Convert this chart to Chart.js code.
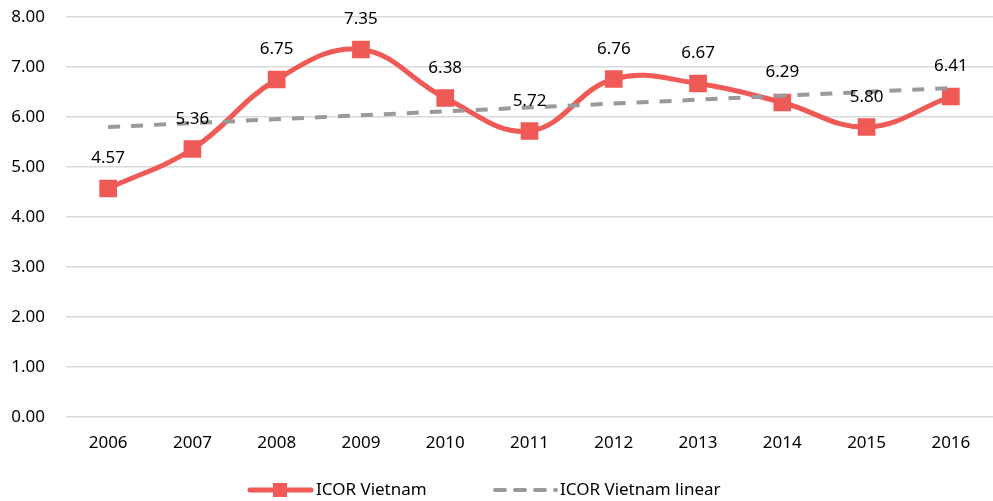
<!DOCTYPE html>
<html>
<head>
<meta charset="utf-8">
<script src="https://cdn.jsdelivr.net/npm/chart.js@4.4.1/dist/chart.umd.min.js"></script>
<style>
  html, body { margin: 0; padding: 0; background: #fff; overflow: hidden; }
  #chart { display: block; }
</style>
</head>
<body>
<canvas id="chart" width="993" height="501"></canvas>
<script>
const years = ['2006', '2007', '2008', '2009', '2010', '2011', '2012', '2013', '2014', '2015', '2016']
const icorValues = [4.57, 5.36, 6.75, 7.35, 6.38, 5.72, 6.76, 6.67, 6.29, 5.80, 6.41]
// trend line: only its two ends, joined straight
const trendValues = [5.80, null, null, null, null, null, null, null, null, null, 6.58]
const seriesNames = ['ICOR Vietnam', 'ICOR Vietnam linear']

const RED = 'rgb(240, 90, 86)'
const GREY = 'rgb(154, 154, 154)'
const FONT = '"Noto Sans", sans-serif'

Chart.defaults.font.family = FONT
Chart.defaults.font.size = 16
Chart.defaults.color = '#000'

// value labels above the red points
const valueLabels = {
  id: 'valueLabels',
  afterDatasetsDraw(chart) {
    const ctx = chart.ctx
    const meta = chart.getDatasetMeta(0)
    ctx.save()
    ctx.font = '17px ' + FONT
    ctx.fillStyle = '#000'
    ctx.textAlign = 'center'
    ctx.textBaseline = 'middle'
    meta.data.forEach((pt, i) => {
      ctx.fillText(icorValues[i].toFixed(2), pt.x, pt.y - 30)
    })
    ctx.restore()
  },
}

// legend at the bottom, drawn by hand to get line + marker samples
const bottomLegend = {
  id: 'bottomLegend',
  afterDraw(chart) {
    const ctx = chart.ctx
    const y = 490
    ctx.save()
    ctx.font = '17px ' + FONT
    ctx.fillStyle = '#000'
    ctx.textBaseline = 'middle'

    ctx.strokeStyle = RED
    ctx.lineWidth = 5
    ctx.lineCap = 'round'
    ctx.beginPath()
    ctx.moveTo(250, y)
    ctx.lineTo(311, y)
    ctx.stroke()
    ctx.fillStyle = RED
    ctx.fillRect(273, y - 7, 14, 14)
    ctx.fillStyle = '#000'
    ctx.fillText(seriesNames[0], 316, y)

    ctx.strokeStyle = GREY
    ctx.lineWidth = 4
    ctx.setLineDash([10, 10])
    ctx.beginPath()
    ctx.moveTo(495, y)
    ctx.lineTo(556, y)
    ctx.stroke()
    ctx.setLineDash([])
    ctx.fillText(seriesNames[1], 560, y)
    ctx.restore()
  },
}

new Chart(document.getElementById('chart'), {
  type: 'line',
  data: {
    labels: years,
    datasets: [
      {
        label: seriesNames[0],
        data: icorValues,
        borderColor: RED,
        backgroundColor: RED,
        borderWidth: 5,
        tension: 0.4,
        pointStyle: 'rect',
        pointRadius: 12.5,
        pointHoverRadius: 12.5,
        pointBorderWidth: 0,
        order: 1,
      },
      {
        label: seriesNames[1],
        data: trendValues,
        borderColor: GREY,
        borderWidth: 4,
        borderDash: [12, 11],
        pointRadius: 0,
        spanGaps: true,
        tension: 0,
        order: 0,
      },
    ],
  },
  plugins: [valueLabels, bottomLegend],
  options: {
    responsive: false,
    animation: false,
    devicePixelRatio: 1,
    layout: { autoPadding: false, padding: { top: 17, right: 0, bottom: 44, left: 0 } },
    plugins: {
      legend: { display: false },
      tooltip: { enabled: false },
    },
    scales: {
      x: {
        offset: true,
        grid: { display: false },
        border: { display: false },
        ticks: { padding: 8, font: { size: 17 } },
        afterFit(scale) {
          scale.height = 40
          scale.paddingLeft = 0
          scale.paddingRight = 0
        },
      },
      y: {
        min: 0,
        max: 8,
        ticks: {
          stepSize: 1,
          padding: 21,
          font: { size: 17 },
          callback: (v) => v.toFixed(2),
        },
        grid: { color: '#d9d9d9', lineWidth: 1.5, drawTicks: false },
        border: { display: false },
        afterFit(scale) {
          scale.width = 66
          scale.paddingTop = 0
          scale.paddingBottom = 0
        },
      },
    },
  },
})
</script>
</body>
</html>
